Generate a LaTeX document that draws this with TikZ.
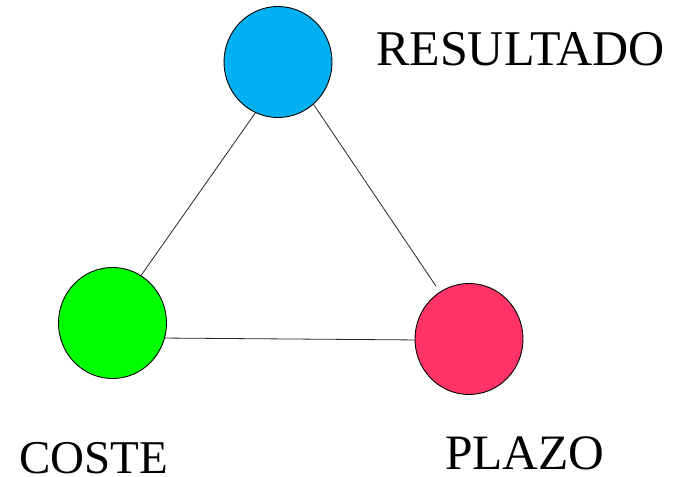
\documentclass[tikz,border=0pt]{standalone}
\usepackage{fontspec}
\setmainfont{Liberation Serif}
\usetikzlibrary{shapes.geometric,calc}
\definecolor{cblue}{RGB}{0,176,240}
\definecolor{cgreen}{RGB}{0,255,0}
\definecolor{cred}{RGB}{255,51,102}
\begin{document}
\begin{tikzpicture}[x=1pt,y=-1pt,
  ball/.style={ellipse,draw=black,line width=0.9pt,minimum width=108pt,minimum height=111pt,inner sep=0pt},
  edge/.style={draw=black!85,line width=0.8pt},
  lbl/.style={anchor=base west,inner sep=0pt,text depth=0pt}]
\useasboundingbox (0,0) rectangle (673,477);
\node[ball,fill=cblue] (res) at (278,62) {};
\node[ball,fill=cgreen] (cos) at (112.5,323) {};
\node[ball,fill=cred] (pla) at (469,339) {};
\draw[edge] (res.246) -- (cos.59);
\draw[edge] (res.310) -- ($(pla.122)!-7pt!(pla.center)$);
\draw[edge] (cos.-16) -- (pla.181);
\node[lbl,font=\fontsize{50}{60}\selectfont] (tres) at (376,65) {RESULTADO};
\node[lbl,font=\fontsize{47}{56}\selectfont] (tcos) at (19,473) {COSTE};
\node[lbl,font=\fontsize{49.5}{59}\selectfont] (tpla) at (445,469) {PLAZO};
\end{tikzpicture}
\end{document}
